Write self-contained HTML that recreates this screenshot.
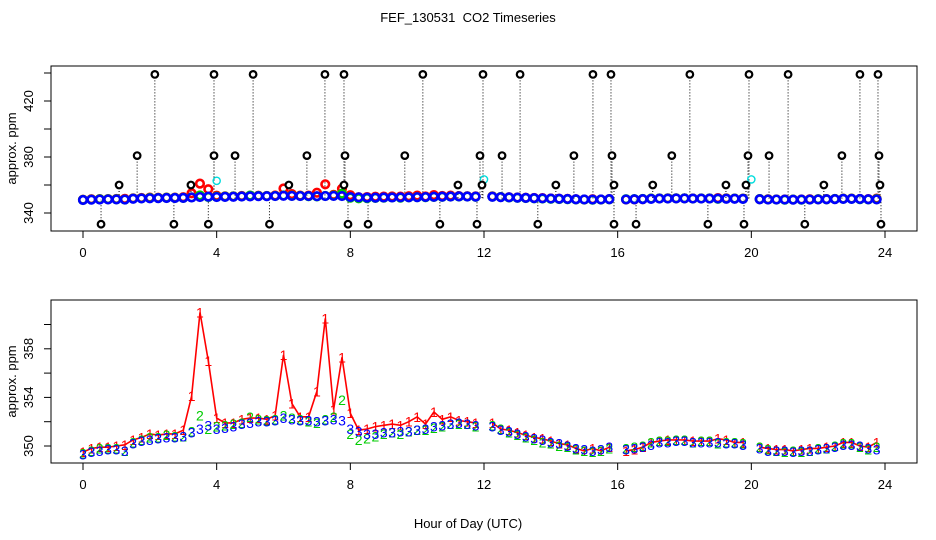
<!DOCTYPE html>
<html><head><meta charset="utf-8"><style>
body{margin:0;background:#fff}
svg{display:block;font-family:"Liberation Sans",Arial,sans-serif}
</style></head><body>
<svg id="chart" width="936" height="540" viewBox="0 0 936 540" xmlns="http://www.w3.org/2000/svg">
<rect width="936" height="540" fill="#fff"/>
<text x="468" y="22" font-size="13" text-anchor="middle">FEF_130531&#160; CO2 Timeseries</text>
<text x="468" y="528" font-size="13" text-anchor="middle">Hour of Day (UTC)</text>
<g id="top"></g>
<g id="bot"></g>
</svg>
<script>
const hours = Array.from({length:96},(_,i)=>i*0.25);
const s1 = [349.5,349.8,349.9,349.9,350.0,350.1,350.5,350.7,351.0,350.9,351.0,351.0,
351.3,354.1,361.0,357.0,352.3,351.9,351.9,352.2,352.3,352.3,352.2,352.5,
357.5,353.5,352.4,352.4,354.5,360.5,353.0,357.3,352.7,351.3,351.4,351.6,
351.7,351.8,351.7,352.0,352.4,351.8,352.8,352.2,352.4,352.1,352.0,351.9,
null,351.9,351.4,351.3,351.1,350.9,350.7,350.6,350.4,350.2,350.1,349.8,
349.6,349.8,349.6,349.9,null,349.6,349.7,349.9,350.3,350.4,350.5,350.5,
350.5,350.4,350.4,350.4,350.6,350.5,350.3,350.3,null,349.9,349.8,349.7,
349.7,349.6,349.7,349.8,349.8,349.9,350.0,350.3,350.3,350.0,349.9,350.3];
const s2 = [349.4,349.6,349.8,349.8,349.8,349.6,350.3,350.5,350.7,350.7,350.9,350.8,
350.8,351.2,352.5,351.4,351.6,351.7,351.8,351.9,352.4,352.2,352.1,352.2,
352.5,352.3,352.2,352.0,351.9,352.2,352.4,353.8,351.0,350.5,350.6,350.8,
351.0,351.1,351.0,351.2,351.3,351.3,351.5,351.6,351.8,351.8,351.8,351.6,
null,351.7,351.4,351.1,350.9,350.7,350.5,350.3,350.2,350.0,349.9,349.7,
349.6,349.5,349.6,349.8,null,349.8,349.9,350.0,350.3,350.4,350.4,350.5,
350.5,350.3,350.4,350.4,350.2,350.3,350.3,350.2,null,349.9,349.7,349.6,
349.5,349.6,349.5,349.6,349.8,349.8,350.0,350.2,350.2,349.9,349.7,349.9];
const s3 = [349.3,349.5,349.6,349.7,349.7,349.6,350.2,350.4,350.5,350.6,350.7,350.7,
350.8,351.1,351.4,351.7,351.4,351.5,351.6,351.8,351.9,352.0,352.0,352.1,
352.3,352.2,352.1,352.1,352.0,352.1,352.2,352.1,351.4,351.2,351.0,351.0,
351.1,351.1,351.2,351.2,351.3,351.4,351.6,351.7,351.8,351.9,351.8,351.7,
null,351.6,351.3,351.2,351.0,350.8,350.6,350.5,350.3,350.2,350.0,349.8,
349.7,349.6,349.7,349.9,null,349.7,349.8,349.9,350.1,350.3,350.3,350.4,
350.4,350.3,350.3,350.3,350.3,350.2,350.2,350.1,null,349.8,349.6,349.6,
349.6,349.5,349.6,349.6,349.7,349.8,349.9,350.1,350.1,350.0,349.8,349.7];
const cyanHours = [4.0, 12.0, 20.0];
const cyanVals = [363, 364, 364];
const outHighHours = [2.15,3.92,5.09,7.24,7.81,10.17,11.97,13.08,15.26,15.8,18.16,19.93,21.1,23.25,23.79];
const out380Hours = [1.62,3.92,4.55,6.70,7.84,9.63,11.88,12.54,14.69,15.83,17.62,19.90,20.53,22.71,23.82];
const out360Hours = [1.08,3.23,6.16,7.81,11.22,11.94,14.15,15.89,17.05,19.24,19.84,22.17,23.85];
const out332Hours = [0.54,2.72,3.75,5.58,7.93,8.53,10.68,11.79,13.61,15.89,16.55,18.70,19.78,21.60,23.88];
const topTicksY = [340,360,380,400,420,440];
const topLabelsY = [340,380,420];
const botTicksY = [350,352,354,356,358,360];
const botLabelsY = [350,354,358];
const xTicks = [0,4,8,12,16,20,24];

const NS="http://www.w3.org/2000/svg";
function mk(tag,attrs,parent,txt){const e=document.createElementNS(NS,tag);for(const k in attrs)e.setAttribute(k,attrs[k]);if(txt!==undefined)e.textContent=txt;parent.appendChild(e);return e;}
const xs = h => 83 + h*(885-83)/24;
const yTop = v => 213 - (v-340)*1.4;
const yBot = v => 446 - (v-350)*12.15;

function frame(g,top,bottom,yf,ticks,labels,name){
  const box=mk('rect',{x:51,y:top,width:866,height:bottom-top,fill:'none',stroke:'#000','stroke-width':1},g);
  
  
  const ax=mk('line',{x1:xs(0),x2:xs(24),y1:bottom,y2:bottom,stroke:'#000'},g);
  
  
  xTicks.forEach(t=>{
    mk('line',{x1:xs(t),x2:xs(t),y1:bottom,y2:bottom+7,stroke:'#000'},g);
    const l=mk('text',{x:xs(t),y:bottom+26,'font-size':13,'text-anchor':'middle'},g,String(t));
    
    
  });
  const ay=mk('line',{x1:51,x2:51,y1:yf(ticks[0]),y2:yf(ticks[ticks.length-1]),stroke:'#000'},g);
  
  
  ticks.forEach(t=>mk('line',{x1:44,x2:51,y1:yf(t),y2:yf(t),stroke:'#000'},g));
  labels.forEach(t=>{
    const l=mk('text',{x:0,y:0,'font-size':13,'text-anchor':'middle',transform:`translate(33,${yf(t)}) rotate(-90)`},g,String(t));
    
    
  });
  const yt=mk('text',{x:0,y:0,'font-size':13,'text-anchor':'middle',transform:`translate(16,${(top+bottom)/2}) rotate(-90)`},g,'approx. ppm');
  
  
}

// top panel
const gt=document.getElementById('top');
frame(gt,66,231,yTop,topTicksY,topLabelsY,'top');
const outGroups=[[outHighHours,439],[out380Hours,381],[out360Hours,360],[out332Hours,332]];
outGroups.forEach(([hs,v])=>{
  hs.forEach(h=>{
    mk('line',{x1:xs(h),x2:xs(h),y1:yTop(v),y2:yTop(349.5),stroke:'#000','stroke-dasharray':'1,2'},gt);
  });
});
[[s1,'#f00'],[s2,'#0c0'],[s3,'#00f']].forEach(([s,c])=>{
  s.forEach((v,i)=>{
    if(v===null)return;
    const e=mk('circle',{cx:xs(hours[i]),cy:yTop(v),r:3.8,fill:'none',stroke:c,'stroke-width':2.6},gt);
    
    
  });
});
cyanHours.forEach((h,i)=>{
  const e=mk('circle',{cx:xs(h),cy:yTop(cyanVals[i]),r:3.6,fill:'none',stroke:'#0dd','stroke-width':1.4},gt);
  
  
});
outGroups.forEach(([hs,v])=>{
  hs.forEach(h=>{
    const e=mk('circle',{cx:xs(h),cy:yTop(v),r:3.3,fill:'#fff',stroke:'#000','stroke-width':2.2},gt);
    
    
  });
});

// bottom panel
const gb=document.getElementById('bot');
frame(gb,300,463,yBot,botTicksY,botLabelsY,'bottom');
function series(s,c,lbl,line){
  if(line){
    let d='',pen=false;
    s.forEach((v,i)=>{ if(v===null){pen=false;return;} d+=(pen?'L':'M')+xs(hours[i]).toFixed(1)+','+yBot(v).toFixed(1); pen=true;});
    const p=mk('path',{d:d,fill:'none',stroke:c,'stroke-width':1.6},gb);
    
    
  }
  s.forEach((v,i)=>{
    if(v===null)return;
    const t=mk('text',{x:xs(hours[i]),y:yBot(v)+5,'font-size':14,'text-anchor':'middle',fill:c},gb,lbl);
    
    
  });
}
series(s1,'#f00','1',true);
series(s2,'#0c0','2',false);
series(s3,'#00f','3',false);
</script>
</body></html>
